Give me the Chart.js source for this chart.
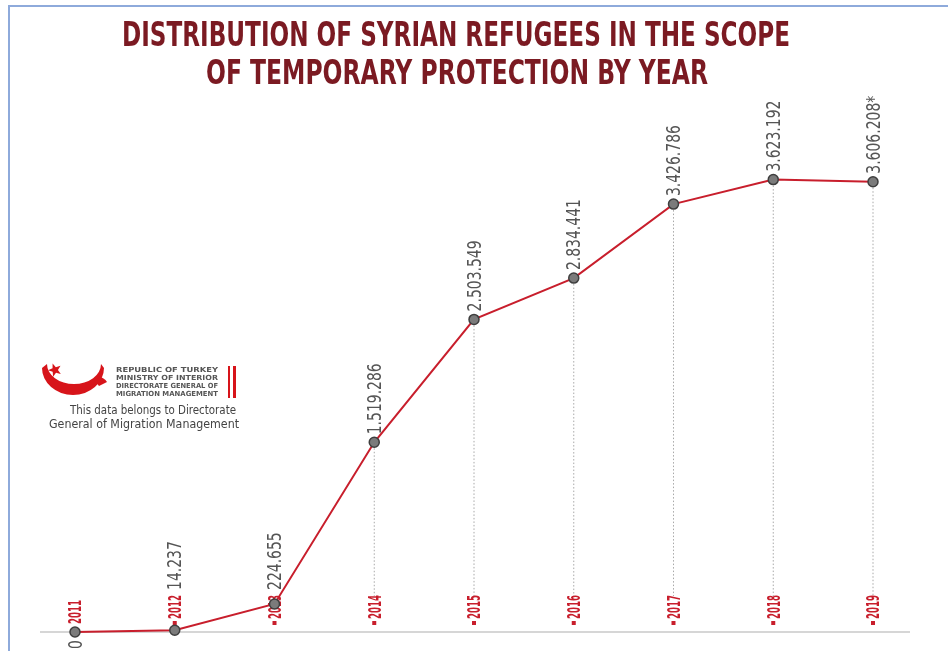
<!DOCTYPE html>
<html>
<head>
<meta charset="utf-8">
<script src="https://cdn.jsdelivr.net/npm/chart.js@4.4.0/dist/chart.umd.min.js"></script>
<style>
  body { margin: 0; background: #fff; }
  canvas { display: block; }
</style>
</head>
<body>
<canvas id="refugeeChart" width="948" height="651"></canvas>
<script>
// Chart data
const years = ['2011', '2012', '2013', '2014', '2015', '2016', '2017', '2018', '2019'];
const refugees = [0, 14237, 224655, 1519286, 2503549, 2834441, 3426786, 3623192, 3606208];
const valueNotes = ['', '', '', '', '', '', '', '', '*'];

const titleLines = ['DISTRIBUTION OF SYRIAN REFUGEES IN THE SCOPE', 'OF TEMPORARY PROTECTION BY YEAR'];
const logoLines = ['REPUBLIC OF TURKEY', 'MINISTRY OF INTERIOR', 'DIRECTORATE GENERAL OF', 'MIGRATION MANAGEMENT'];
const sourceLines = ['This data belongs to Directorate', 'General of Migration Management'];

const NARROW = "'Liberation Sans Narrow', 'DejaVu Sans Condensed', 'Arial Narrow', sans-serif";
const RED = '#c81e2c';

// format 3623192 -> 3.623.192
function formatValue(v) {
    return String(v).replace(/\B(?=(\d{3})+(?!\d))/g, '.');
}

// draw text squeezed/stretched to a given width
function fitText(ctx, text, x, y, width, align) {
    const w = ctx.measureText(text).width;
    const sx = width / w;
    ctx.save();
    ctx.translate(x, y);
    ctx.scale(sx, 1);
    ctx.textAlign = align || 'center';
    ctx.fillText(text, 0, 0);
    ctx.restore();
}

// rotated text reading bottom to top, starting at (x, y)
function upText(ctx, text, x, y, capH, sx) {
    ctx.save();
    ctx.translate(x, y);
    ctx.rotate(-Math.PI / 2);
    ctx.scale(sx, 1);
    ctx.textAlign = 'left';
    ctx.textBaseline = 'alphabetic';
    ctx.fillText(text, 0, capH / 2);
    ctx.restore();
}

function drawStar(ctx, cx, cy, r) {
    ctx.beginPath();
    for (let i = 0; i < 10; i++) {
        const rad = i % 2 === 0 ? r : r * 0.42;
        const a = -Math.PI / 2 + i * Math.PI / 5 - 0.35;
        ctx.lineTo(cx + rad * Math.cos(a), cy + rad * Math.sin(a));
    }
    ctx.closePath();
    ctx.fill();
}

// Frame, title, logo and the hand-lettered labels
const decorPlugin = {
    id: 'decor',
    beforeDraw(chart) {
        const ctx = chart.ctx;
        ctx.save();
        ctx.fillStyle = '#fff';
        ctx.fillRect(0, 0, chart.width, chart.height);

        // thin blue frame
        ctx.fillStyle = '#8eaadb';
        ctx.fillRect(8, 5, chart.width - 8, 2);
        ctx.fillRect(8, 5, 2, chart.height - 5);

        // title
        ctx.fillStyle = '#7b1a22';
        ctx.font = 'bold 33px ' + NARROW;
        ctx.textBaseline = 'alphabetic';
        fitText(ctx, titleLines[0], 456, 46, 668);
        fitText(ctx, titleLines[1], 457, 84, 502);

        // logo: crescent and star
        ctx.fillStyle = '#d7141a';
        ctx.beginPath();
        ctx.ellipse(73, 368, 31, 27, 0, 0, Math.PI);
        ctx.ellipse(74, 364, 27, 20, 0, Math.PI, 0, true);
        ctx.closePath();
        ctx.fill();
        ctx.beginPath();
        ctx.moveTo(94, 380);
        ctx.quadraticCurveTo(102, 374, 107, 382);
        ctx.lineTo(99, 386);
        ctx.closePath();
        ctx.fill();
        drawStar(ctx, 55, 370, 7);

        ctx.font = 'bold 7px ' + NARROW;
        ctx.fillStyle = '#555';
        logoLines.forEach((t, i) => fitText(ctx, t, 116, 372 + i * 8, 102, 'left'));
        ctx.fillStyle = '#d7141a';
        ctx.fillRect(228, 366, 2, 32);
        ctx.fillRect(233, 366, 3, 32);

        ctx.fillStyle = '#444';
        ctx.font = '12px ' + NARROW;
        fitText(ctx, sourceLines[0], 153, 414, 166);
        fitText(ctx, sourceLines[1], 144, 428, 190);
        ctx.restore();
    },
    beforeDatasetsDraw(chart) {
        const ctx = chart.ctx;
        const meta = chart.getDatasetMeta(0);
        const baseY = chart.scales.y.getPixelForValue(0);
        const labelTop = baseY - 36;
        ctx.save();

        // baseline
        ctx.strokeStyle = '#c9c9c9';
        ctx.lineWidth = 1.5;
        ctx.beginPath();
        ctx.moveTo(40, baseY);
        ctx.lineTo(910, baseY);
        ctx.stroke();

        // dotted drop lines
        ctx.strokeStyle = '#a8a8a8';
        ctx.lineWidth = 1;
        ctx.setLineDash([1.5, 2]);
        meta.data.forEach((pt, i) => {
            if (pt.y + 6 >= labelTop) return;
            ctx.beginPath();
            ctx.moveTo(pt.x, pt.y + 6);
            ctx.lineTo(pt.x, labelTop);
            ctx.stroke();
        });
        ctx.setLineDash([]);

        // year labels
        ctx.fillStyle = RED;
        ctx.font = 'bold 18px ' + NARROW;
        const ySx = 24 / ctx.measureText('2014').width;
        meta.data.forEach((pt, i) => {
            if (refugees[i] === 0) {
                upText(ctx, years[i], pt.x, baseY - 8, 12.5, ySx);
            } else {
                ctx.fillRect(pt.x - 2, baseY - 11, 4, 4);
                upText(ctx, years[i], pt.x, baseY - 13, 12.5, ySx);
            }
        });
        ctx.restore();
    },
    afterDatasetsDraw(chart) {
        const ctx = chart.ctx;
        const meta = chart.getDatasetMeta(0);
        const baseY = chart.scales.y.getPixelForValue(0);
        ctx.save();
        ctx.fillStyle = '#555';
        ctx.font = '19px ' + NARROW;
        const vSx = 71 / ctx.measureText('3.623.192').width;
        meta.data.forEach((pt, i) => {
            const text = formatValue(refugees[i]) + valueNotes[i];
            if (refugees[i] === 0) {
                upText(ctx, text, pt.x, baseY + 17, 13, vSx);
            } else {
                // keep the value clear of the year label for points near the base
                upText(ctx, text, pt.x, Math.min(pt.y - 8, baseY - 42), 13, vSx);
            }
        });
        ctx.restore();
    }
};

const ctx = document.getElementById('refugeeChart').getContext('2d');
new Chart(ctx, {
    type: 'line',
    data: {
        labels: years,
        datasets: [{
            label: 'Syrian refugees under temporary protection',
            data: refugees,
            borderColor: RED,
            borderWidth: 2,
            tension: 0,
            clip: false,
            pointRadius: 5,
            pointBackgroundColor: '#7b7b7b',
            pointBorderColor: '#3e3e3e',
            pointBorderWidth: 1.5
        }]
    },
    options: {
        responsive: false,
        animation: false,
        layout: {
            padding: { left: 75, right: 75, top: 170, bottom: 19 }
        },
        scales: {
            x: { display: false, offset: false },
            y: { display: false, min: 0, max: 3700000 }
        },
        plugins: {
            legend: { display: false },
            tooltip: { enabled: false }
        }
    },
    plugins: [decorPlugin]
});
</script>
</body>
</html>
